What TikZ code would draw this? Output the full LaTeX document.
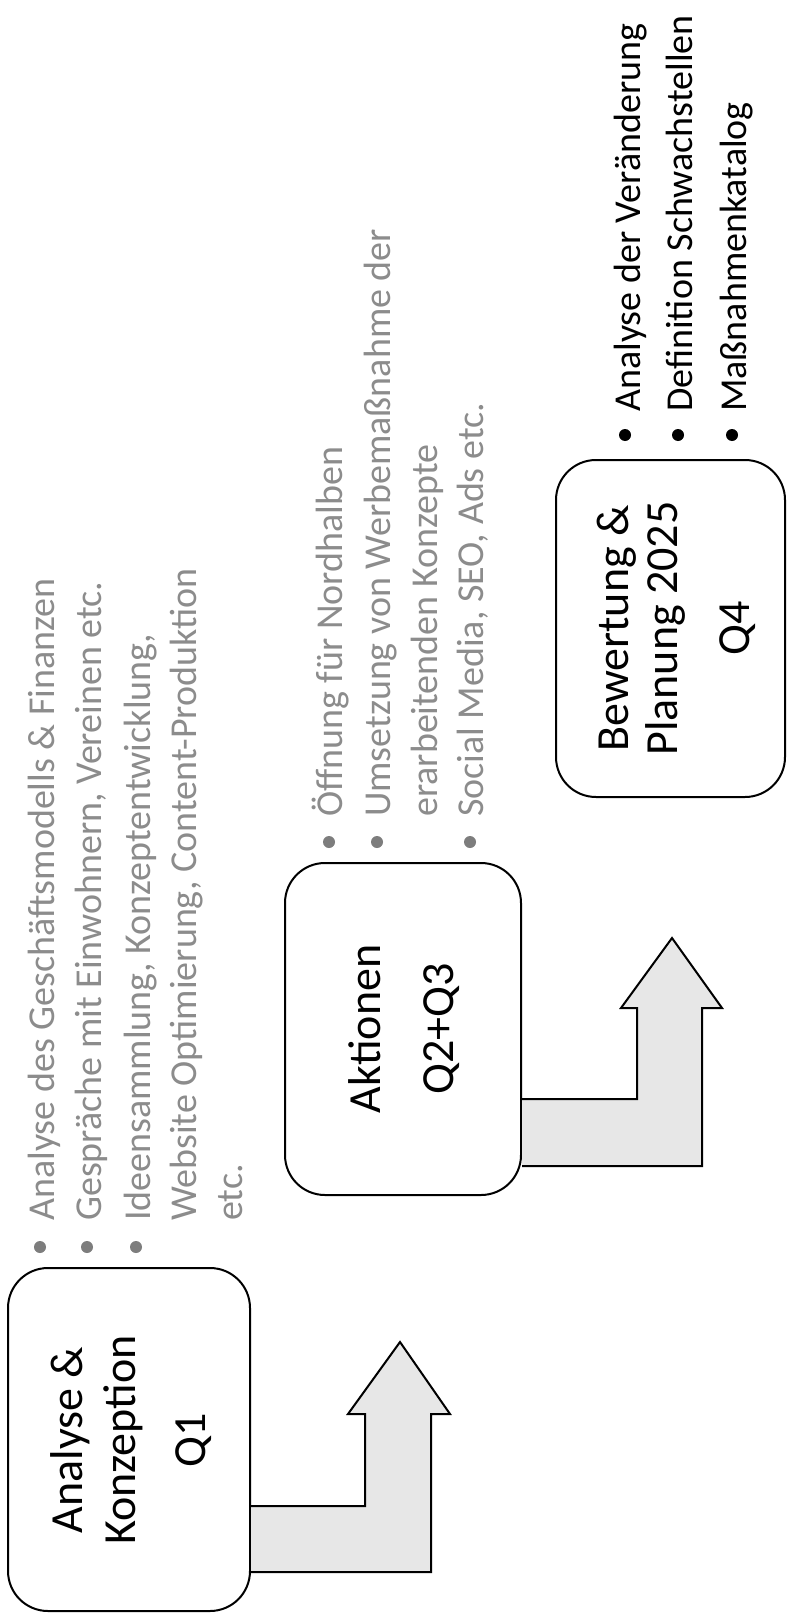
\documentclass[tikz,border=0pt]{standalone}
\usepackage{fontspec}
\setmainfont{Carlito}
\definecolor{bulgray}{RGB}{125,125,125}
\definecolor{txtgray}{RGB}{140,140,140}
\definecolor{arrowfill}{RGB}{231,231,231}
\tikzset{
  boxstyle/.style={draw=black, line width=2pt, rounded corners=40pt, inner sep=0pt},
  boxtext/.style={rotate=90, anchor=base, inner sep=0pt, font=\fontsize{46}{50}\selectfont},
  graytext/.style={rotate=90, anchor=base west, inner sep=0pt, text=txtgray, font=\fontsize{38}{46}\selectfont},
  blacktext/.style={rotate=90, anchor=base west, inner sep=0pt, text=black, font=\fontsize{38}{46}\selectfont},
  graydot/.style={circle, fill=bulgray, inner sep=0pt, minimum size=12pt},
  blackdot/.style={circle, fill=black, inner sep=0pt, minimum size=12pt},
  blockarrow/.style={draw=black, fill=arrowfill, line width=2pt, line join=miter},
}
\begin{document}
\begin{tikzpicture}[x=1pt,y=-1pt]
\fill[white] (0,0) rectangle (788,1621);
\useasboundingbox (0,0) rectangle (788,1621);

% boxes
\node[boxstyle, minimum width=242pt, minimum height=343pt] (b1) at (129,1439.5) {};
\node[boxstyle, minimum width=236pt, minimum height=332pt] (b2) at (403,1029) {};
\node[boxstyle, minimum width=229pt, minimum height=337pt] (b3) at (670.5,628.5) {};

% block arrows
\draw[blockarrow] (b1.east |- 0,1506) -- (365,1506) -- (365,1414) -- (348,1414) -- (400,1342)
   -- (450,1414) -- (431,1414) -- (431,1572) -- (b1.east |- 0,1572);
\draw[blockarrow] (b2.east |- 0,1099) -- (637,1099) -- (637,1008) -- (621,1008) -- (672,938)
   -- (722,1008) -- (702,1008) -- (702,1166) -- (b2.east |- 0,1166);

% box texts
\node[boxtext] (t11) at (82,1440) {Analyse \&};
\node[boxtext] (t12) at (135,1440) {Konzeption};
\node[boxtext] (t13) at (205,1440) {Q1};
\node[boxtext] (t21) at (380,1029) {Aktionen};
\node[boxtext] (t22) at (453,1029) {Q2+Q3};
\node[boxtext] (t31) at (628,628.5) {Bewertung \&};
\node[boxtext] (t32) at (677,628.5) {Planung 2025};
\node[boxtext] (t33) at (749,628.5) {Q4};

% list 1
\node[graydot] (d11) at (40,1247) {};
\node[graydot] (d12) at (87,1247) {};
\node[graydot] (d13) at (136,1247) {};
\node[graytext] (a1) at (54,1221) {Analyse des Geschäftsmodells \& Finanzen};
\node[graytext] (a2) at (101,1221) {Gespräche mit Einwohnern, Vereinen etc.};
\node[graytext] (a3) at (150,1221) {Ideensammlung, Konzeptentwicklung,};
\node[graytext] (a4) at (196,1221) {Website Optimierung, Content-Produktion};
\node[graytext] (a5) at (242,1221) {etc.};

% list 2
\node[graydot] (d21) at (329,842) {};
\node[graydot] (d22) at (377,842) {};
\node[graydot] (d23) at (470,842) {};
\node[graytext] (c1) at (342,817) {Öffnung für Nordhalben};
\node[graytext] (c2) at (390,817) {Umsetzung von Werbemaßnahme der};
\node[graytext] (c3) at (437,817) {erarbeitenden Konzepte};
\node[graytext] (c4) at (483,817) {Social Media, SEO, Ads etc.};

% list 3
\node[blackdot] (d31) at (625,435) {};
\node[blackdot] (d32) at (678,435) {};
\node[blackdot] (d33) at (732,435) {};
\node[blacktext] (e1) at (640,412) {Analyse der Veränderung};
\node[blacktext] (e2) at (692,412) {Definition Schwachstellen};
\node[blacktext] (e3) at (746,412) {Maßnahmenkatalog};
\end{tikzpicture}
\end{document}
